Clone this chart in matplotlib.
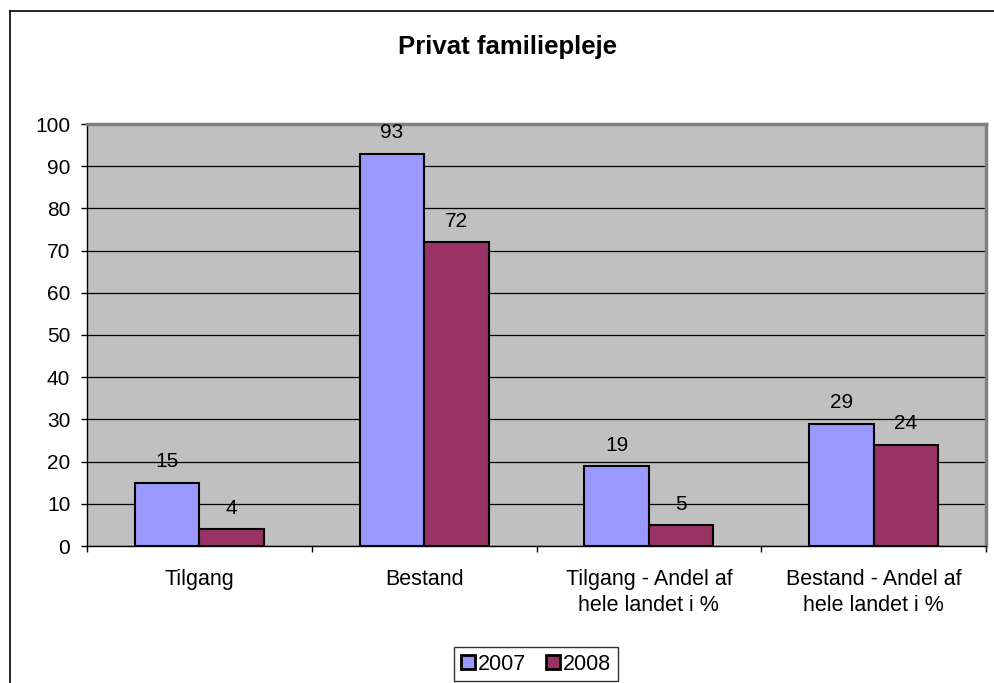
import matplotlib
matplotlib.use("Agg")
import matplotlib.pyplot as plt
import numpy as np
from matplotlib.lines import Line2D

plt.rcParams['font.family'] = ['Liberation Sans', 'DejaVu Sans']

categories = ["Tilgang", "Bestand", "Tilgang - Andel af\nhele landet i %", "Bestand - Andel af\nhele landet i %"]
series_names = ["2007", "2008"]
values_2007 = [15, 93, 19, 29]
values_2008 = [4, 72, 5, 24]
colors = ["#9999FF", "#993366"]

W, H = 995, 683
fs = 15
fig = plt.figure(figsize=(W / 100, H / 100), dpi=100)

# outer chart frame (cropped at right/bottom)
fig.add_artist(Line2D([10.5 / W, 1.0], [1 - 10.5 / H, 1 - 10.5 / H], color="black", lw=1.2, transform=fig.transFigure))
fig.add_artist(Line2D([10.5 / W, 10.5 / W], [0, 1 - 10.5 / H], color="black", lw=1.2, transform=fig.transFigure))

ax = fig.add_axes([87 / W, 1 - 546 / H, (986 - 87) / W, (546 - 124) / H])
ax.set_facecolor("#C0C0C0")

x = np.arange(len(categories))
bw = 0.287
bars1 = ax.bar(x - bw / 2, values_2007, bw, color=colors[0], edgecolor="black", linewidth=1.5, zorder=3, label=series_names[0])
bars2 = ax.bar(x + bw / 2, values_2008, bw, color=colors[1], edgecolor="black", linewidth=1.5, zorder=3, label=series_names[1])

for bars, vals in ((bars1, values_2007), (bars2, values_2008)):
    for b, v in zip(bars, vals):
        ax.annotate(str(v), (b.get_x() + b.get_width() / 2, v), xytext=(0, 11),
                    textcoords="offset points", ha="center", va="baseline", fontsize=fs)

ax.set_xlim(-0.5, len(categories) - 0.5)
ax.set_ylim(0, 100)
ax.set_yticks(np.arange(0, 101, 10))
ax.yaxis.grid(True, color="black", linewidth=0.9, zorder=1)
ax.set_axisbelow(True)
ax.tick_params(axis="y", labelsize=fs, length=4.5, width=1, direction="out", pad=7.5)

ax.set_xticks(np.arange(-0.5, len(categories), 1.0))
ax.set_xticklabels([])
ax.set_xticks(x, minor=True)
ax.set_xticklabels(categories, minor=True, fontsize=15.5, linespacing=1.3)
ax.tick_params(axis="x", which="major", length=4.5, width=1, direction="out")
ax.tick_params(axis="x", which="minor", length=0, pad=16.5)

for s in ("left", "bottom"):
    ax.spines[s].set_color("black")
    ax.spines[s].set_linewidth(1.0)
for s in ("top", "right"):
    ax.spines[s].set_color("#808080")
    ax.spines[s].set_linewidth(2.5)

fig.text(508 / W, 1 - 47 / H, "Privat familiepleje", ha="center", va="center", fontsize=18.5, fontweight="bold")

leg = fig.legend(handles=[bars1, bars2], labels=series_names, loc="center",
                 bbox_to_anchor=(536 / W, 1 - 664 / H), ncol=2, fontsize=15.5,
                 frameon=True, fancybox=False, edgecolor="black", handlelength=0.65,
                 handleheight=0.65, handletextpad=0.15, columnspacing=0.9, borderpad=0.3,
                 borderaxespad=0)
leg.get_frame().set_linewidth(1.0)
for h in leg.legend_handles:
    h.set_linewidth(2.0)

fig.savefig("out.png", dpi=100)
